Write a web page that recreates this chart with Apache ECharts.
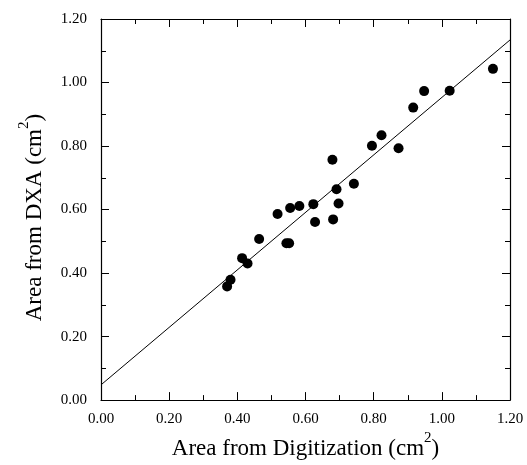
<!DOCTYPE html>
<html><head><meta charset="utf-8">
<script src="https://cdn.jsdelivr.net/npm/echarts@6/dist/echarts.min.js"></script>
<style>html,body{margin:0;padding:0;background:#fff}#c{width:527px;height:465px}</style>
</head><body><div id="c"></div>
<script>
const digitization = [0.370,0.380,0.414,0.430,0.464,0.518,0.544,0.552,0.555,0.582,0.623,0.628,0.679,0.681,0.691,0.697,0.742,0.795,0.823,0.873,0.916,0.948,1.023,1.150];
const dxa          = [0.358,0.379,0.447,0.430,0.507,0.586,0.494,0.494,0.605,0.611,0.617,0.561,0.757,0.569,0.664,0.619,0.681,0.801,0.834,0.793,0.921,0.973,0.974,1.043];
const fitIntercept = 0.048;
const fitSlope = 0.905;
const fitRange = [0, 1.2];
const tickLabels = ['0.00','0.20','0.40','0.60','0.80','1.00','1.20'];

const pts = digitization.map((x,i)=>[x,dxa[i]]);
const fit = fitRange.map(x=>[x, fitIntercept + fitSlope*x]);
const font = 'Liberation Serif';
const lab = v => tickLabels[Math.round(v/0.2)];
const baseAxis = (pos, show) => ({
  type:'value', min:0, max:1.2, interval:0.2, position:pos,
  axisLine:{show:true, onZero:false, lineStyle:{color:'#000', width:1.2}},
  axisTick:{show:true, inside:true, length:8, lineStyle:{color:'#000'}},
  minorTick:{show:true, splitNumber:2, length:5, lineStyle:{color:'#000'}},
  splitLine:{show:false},
  axisLabel:{show:show, color:'#000', fontFamily:font, fontSize:15, formatter:lab}
});
const rich = {
  a:{fontFamily:font,fontSize:23,color:'#000',verticalAlign:'bottom'},
  s:{fontFamily:font,fontSize:15,color:'#000',verticalAlign:'top',padding:[0,0,14,0]}
};
const chart = echarts.init(document.getElementById('c'));
const xa = baseAxis('bottom', true);
xa.axisLabel.margin = 11;
xa.name = '{a|Area from Digitization (cm}{s|2}{a|)}';
xa.nameLocation = 'middle'; xa.nameGap = 30;
xa.nameTextStyle = {rich:rich};
const ya = baseAxis('left', true);
ya.axisLabel.margin = 14;
ya.name = '{a|Area from DXA (cm}{s|2}{a|)}';
ya.nameLocation = 'middle'; ya.nameGap = 55;
ya.nameTextStyle = {rich:rich, padding:[0,16,0,0]};
chart.setOption({
  animation:false,
  backgroundColor:'#fff',
  grid:{left:101, right:17, top:19, bottom:62},
  xAxis:[xa, baseAxis('top', false)],
  yAxis:[ya, baseAxis('right', false)],
  series:[
    {type:'line', data:fit, symbol:'none', lineStyle:{color:'#000', width:1}, xAxisIndex:0, yAxisIndex:0},
    {type:'scatter', data:pts, symbol:'circle', symbolSize:10, itemStyle:{color:'#000', opacity:1}, xAxisIndex:0, yAxisIndex:0}
  ]
});
</script></body></html>
